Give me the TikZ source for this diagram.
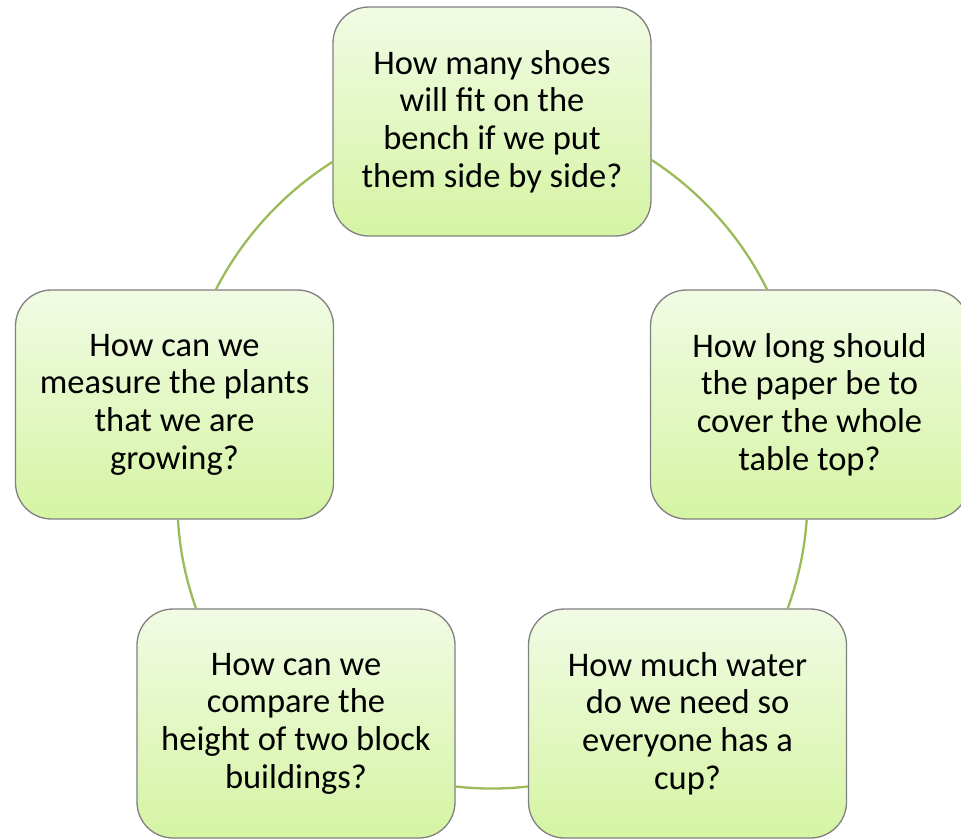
\documentclass[tikz,border=0pt]{standalone}
\usepackage{fontspec}
\setmainfont{Carlito}
\usetikzlibrary{calc}
\definecolor{gtop}{RGB}{241,251,228}
\definecolor{gbot}{RGB}{213,244,163}
\definecolor{edge}{RGB}{128,128,128}
\definecolor{conn}{RGB}{155,187,89}
\tikzset{
  qbox/.style={draw=edge, line width=1.3pt, rounded corners=36pt,
    top color=gtop, bottom color=gbot, minimum width=318pt, minimum height=229pt,
    align=center, inner sep=0pt, font=\fontsize{34.5}{37.7}\selectfont},
  link/.style={draw=conn, line width=2.3pt, looseness=0.86}
}
\begin{document}
\begin{tikzpicture}[x=1pt,y=1pt]
\useasboundingbox (0,0) rectangle (961,-839);
\node[qbox] (top) at (492,-121.5) {How many shoes\\will fit on the\\bench if we put\\them side by side?};
\node[qbox] (right) at (809.5,-404.5) {How long should\\the paper be to\\cover the whole\\table top?};
\node[qbox] (br) at (687.5,-723.5) {How much water\\do we need so\\everyone has a\\cup?};
\node[qbox] (bl) at (296,-723.5) {How can we\\compare the\\height of two block\\buildings?};
\node[qbox] (left) at (174.5,-404.5) {How can we\\measure the plants\\that we are\\growing?};
\draw[link] ($(top.east)+(0,-38.5)$) to[out=-32.9,in=116.3] ($(right.north)+(-42.5,0)$);
\draw[link] ($(right.south)+(-2.8,0)$) to[out=-94.05,in=69.95] ($(br.north)+(100.2,0)$);
\draw[link] ($(br.west)+(0,-63)$) to[out=-173.6,in=-6.4] ($(bl.east)+(0,-63)$);
\draw[link] ($(bl.north)+(-100,0)$) to[out=109.4,in=-87] ($(left.south)+(3.5,0)$);
\draw[link] ($(left.north)+(41.5,0)$) to[out=62.9,in=212.3] ($(top.west)+(0,-40.5)$);
\end{tikzpicture}
\end{document}
